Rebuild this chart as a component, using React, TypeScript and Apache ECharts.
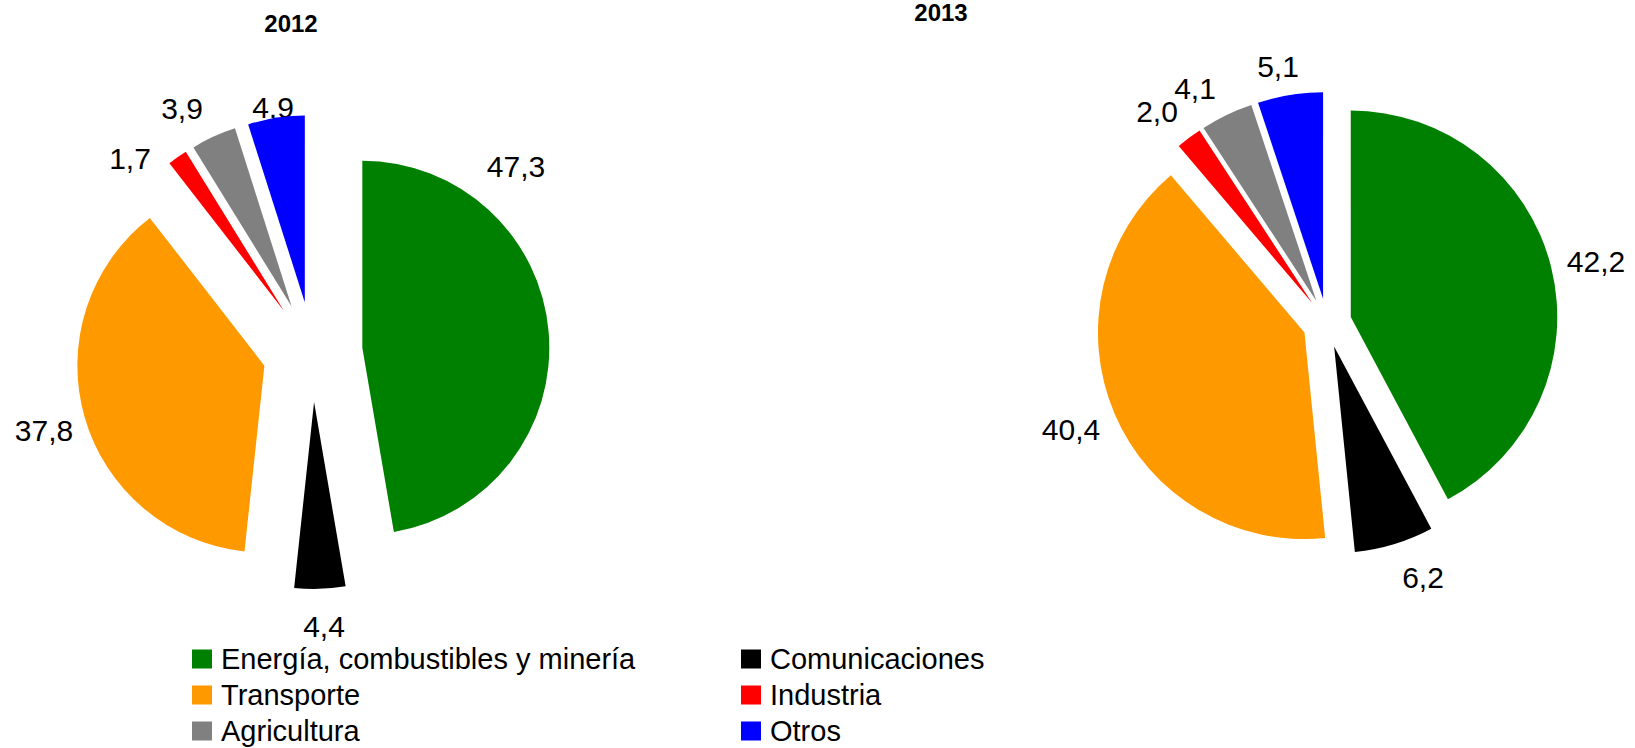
import React, { useEffect, useRef } from "react";
import * as echarts from "echarts";

// ---- data ----
const categories = [
  "Energía, combustibles y minería",
  "Comunicaciones",
  "Transporte",
  "Industria",
  "Agricultura",
  "Otros",
];
const values2012 = [47.3, 4.4, 37.8, 1.7, 3.9, 4.9];
const values2013 = [42.2, 6.2, 40.4, 2.0, 4.1, 5.1];
const years = ["2012", "2013"];
const legendColumn1 = ["Energía, combustibles y minería", "Transporte", "Agricultura"];
const legendColumn2 = ["Comunicaciones", "Industria", "Otros"];

// ---- styles ----
const colors = ["#008000", "#000000", "#FF9900", "#FF0000", "#808080", "#0000FF"];
const FONT = "'Liberation Sans', Arial, sans-serif";
// label anchor positions (px) for each slice label, per pie
const labelPos2012 = [
  [516, 166], [324, 626], [44, 430], [130, 158], [182, 108], [273, 107],
];
const labelPos2013 = [
  [1596, 261], [1423, 577], [1071, 429], [1157, 111], [1195, 88], [1278, 66],
];

const fmt = (v: number) => v.toFixed(1).replace(".", ",");

function pieSeries(name: string, values: number[], center: number[], radius: number, offset: number) {
  return {
    type: "pie",
    name,
    center,
    radius,
    startAngle: 90,
    clockwise: true,
    selectedMode: "multiple",
    selectedOffset: offset,
    avoidLabelOverlap: false,
    emphasis: { disabled: true, scale: false },
    select: { itemStyle: { borderWidth: 0 } },
    itemStyle: { borderWidth: 0 },
    label: { show: false },
    labelLine: { show: false },
    data: categories.map((c, i) => ({
      name: c,
      value: values[i],
      selected: true,
      itemStyle: { color: colors[i] },
    })),
  };
}

function valueLabels(values: number[], pos: number[][]) {
  return values.map((v, i) => ({
    type: "text",
    x: pos[i][0],
    y: pos[i][1],
    silent: true,
    style: {
      text: fmt(v),
      fontFamily: FONT,
      fontSize: 30,
      fill: "#000",
      align: "center",
      verticalAlign: "middle",
    },
  }));
}

export default function App() {
  const ref = useRef<HTMLDivElement>(null);
  useEffect(() => {
    if (!ref.current) return;
    const chart = echarts.init(ref.current, undefined, { renderer: "svg" });
    const legendBase = {
      orient: "vertical",
      selectedMode: false,
      icon: "rect",
      itemWidth: 20,
      itemHeight: 19,
      itemGap: 6,
      padding: 0,
      height: 110,
      textStyle: {
        fontFamily: FONT,
        fontSize: 29,
        lineHeight: 30,
        color: "#000",
        padding: [0, 0, 0, 4],
      },
    };
    chart.setOption({
      animation: false,
      backgroundColor: "#fff",
      color: colors,
      title: [
        {
          text: years[0],
          left: 291,
          top: 11,
          textAlign: "center",
          padding: 0,
          textStyle: { fontFamily: FONT, fontSize: 24, fontWeight: "bold", color: "#000" },
        },
        {
          text: years[1],
          left: 941,
          top: 0,
          textAlign: "center",
          padding: 0,
          textStyle: { fontFamily: FONT, fontSize: 24, fontWeight: "bold", color: "#000" },
        },
      ],
      legend: [
        { ...legendBase, left: 192, top: 644, data: legendColumn1 },
        { ...legendBase, left: 741, top: 644, data: legendColumn2 },
      ],
      graphic: [
        ...valueLabels(values2012, labelPos2012),
        ...valueLabels(values2013, labelPos2013),
      ],
      series: [
        pieSeries(years[0], values2012, [312.5, 352], 187, 50),
        pieSeries(years[1], values2013, [1327, 323], 206.5, 24.5),
      ],
    });
    return () => chart.dispose();
  }, []);
  return (
    <div
      ref={ref}
      style={{ position: "absolute", left: 0, top: 0, width: 1635, height: 748 }}
    />
  );
}
